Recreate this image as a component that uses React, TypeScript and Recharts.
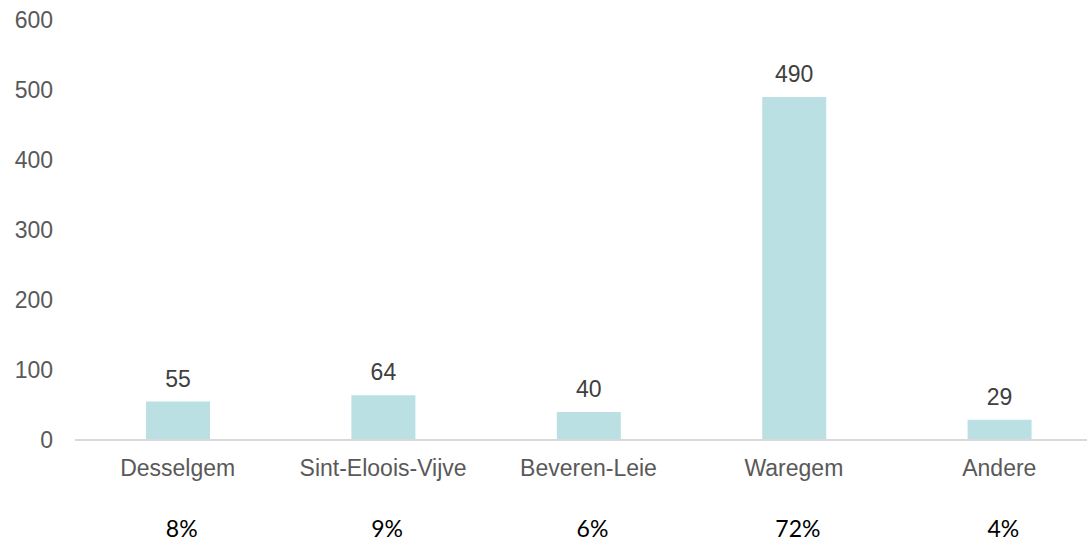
import React from "react";
import { BarChart, Bar, XAxis, YAxis, LabelList } from "recharts";

const gemeenten = ["Desselgem", "Sint-Eloois-Vijve", "Beveren-Leie", "Waregem", "Andere"];
const aantallen = [55, 64, 40, 490, 29];
const aandelen = ["8%", "9%", "6%", "72%", "4%"];
const yTicks = [0, 100, 200, 300, 400, 500, 600];

const data = gemeenten.map((naam, i) => ({
  naam,
  aantal: aantallen[i],
  aandeel: aandelen[i],
}));

const AxisTick = (props: any) => {
  const { x, y, payload, index } = props;
  return (
    <g>
      <text
        x={x}
        y={y + 20}
        textAnchor="middle"
        dominantBaseline="central"
        fill="#595959"
        fontSize={23}
        fontFamily="'Liberation Sans', Arial, sans-serif"
      >
        {payload.value}
      </text>
      <text
        x={x + 4}
        y={y + 80}
        textAnchor="middle"
        dominantBaseline="central"
        fill="#000000"
        fontSize={23}
        fontFamily="Lato, 'Open Sans', sans-serif"
      >
        {aandelen[index]}
      </text>
    </g>
  );
};

export default function App() {
  return (
    <div
      style={{
        position: "absolute",
        left: 0,
        top: 0,
        width: 1087,
        height: 541,
        overflow: "hidden",
        background: "#ffffff",
      }}
    >
      <BarChart
        width={1110}
        height={541}
        data={data}
        margin={{ top: 20, right: 8, bottom: 0, left: 0 }}
      >
        <XAxis
          dataKey="naam"
          height={101}
          axisLine={{ stroke: "#D9D9D9", strokeWidth: 2 }}
          tickLine={false}
          interval={0}
          tick={<AxisTick />}
        />
        <YAxis
          width={75}
          domain={[0, 600]}
          ticks={yTicks}
          axisLine={false}
          tickLine={false}
          tickSize={0}
          tickMargin={22}
          tick={{
            fill: "#595959",
            fontSize: 23,
            fontFamily: "'Liberation Sans', Arial, sans-serif",
          }}
        />
        <Bar dataKey="aantal" fill="#BAE0E3" barSize={64} isAnimationActive={false}>
          <LabelList
            dataKey="aantal"
            position="top"
            offset={15}
            fill="#404040"
            fontSize={23}
            fontFamily="'Liberation Sans', Arial, sans-serif"
          />
        </Bar>
      </BarChart>
    </div>
  );
}
